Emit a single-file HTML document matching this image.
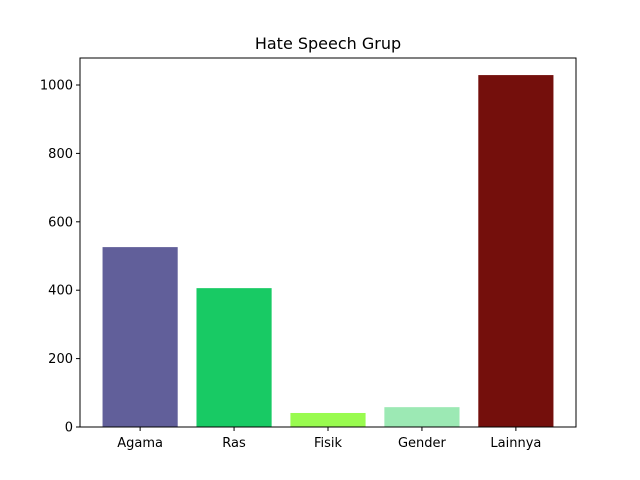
<!DOCTYPE html>
<html><head><meta charset="utf-8"><style>body{margin:0;background:#fff}svg{display:block;font-family:"DejaVu Sans","Liberation Sans",sans-serif}</style></head>
<body>
<svg id="chart" width="640" height="480">
<rect width="640" height="480" fill="#fff"/>
<text x="328" y="49" font-size="16" text-anchor="middle">Hate Speech Grup</text>
<g id="bars"></g><g id="ticks"></g>
<rect x="80" y="58" width="496" height="369" fill="none" stroke="#000" stroke-width="1"/>
</svg>
<script>
const categories = ["Agama","Ras","Fisik","Gender","Lainnya"];
const values = [526, 406, 41, 58, 1029];
const colors = ["#615f9a","#18ca64","#99fb4f","#9ce9b4","#740f0c"];
const yTicks = [0,200,400,600,800,1000];
const NS="http://www.w3.org/2000/svg";
const L=80,R=576,T=58,B=427;
const xmin=-0.64,xmax=categories.length-1+0.64;
const x=v=>L+(v-xmin)/(xmax-xmin)*(R-L);
const y=v=>B-v*0.342;
const bars=document.getElementById('bars'),ticks=document.getElementById('ticks');
function mk(t,a,p){const e=document.createElementNS(NS,t);for(const k in a)e.setAttribute(k,a[k]);p.appendChild(e);return e;}
categories.forEach((c,i)=>{
 const r=mk('rect',{x:x(i-0.4),y:y(values[i]),width:x(i+0.4)-x(i-0.4),height:B-y(values[i]),fill:colors[i]},bars);
 
 
 mk('line',{x1:x(i),x2:x(i),y1:B,y2:B+4,stroke:'#000'},ticks);
 const t=mk('text',{x:x(i),y:B+20,'font-size':13,'text-anchor':'middle'},ticks);t.textContent=c;
 
 
});
yTicks.forEach(v=>{
 mk('line',{x1:L-4,x2:L,y1:y(v),y2:y(v),stroke:'#000'},ticks);
 const t=mk('text',{x:L-7,y:y(v)+4.5,'font-size':13,'text-anchor':'end'},ticks);t.textContent=v;
 
 
});
</script>
</body></html>
